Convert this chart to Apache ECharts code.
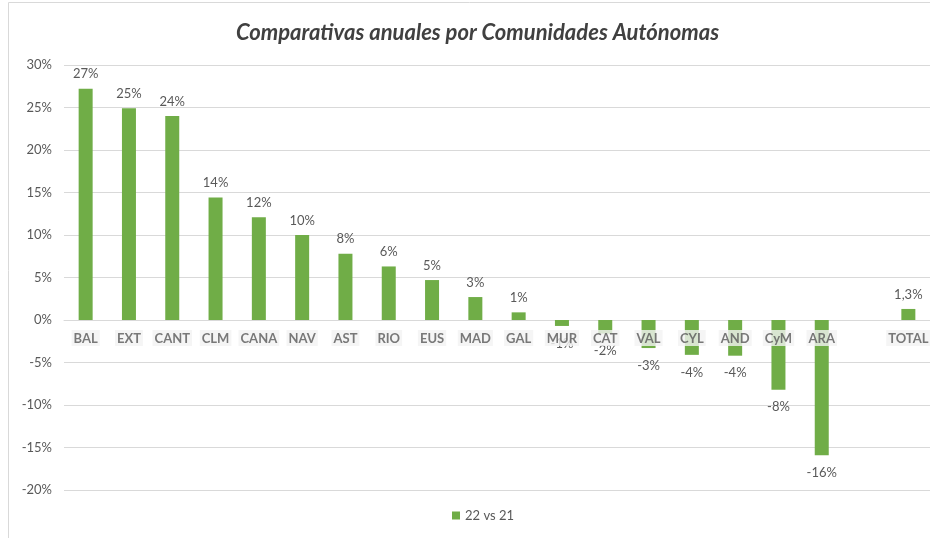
<!DOCTYPE html>
<html>
<head>
<meta charset="utf-8">
<script src="https://cdn.jsdelivr.net/npm/echarts@6/dist/echarts.min.js"></script>
<style>html,body{margin:0;padding:0;background:#fff;overflow:hidden}#c{width:930px;height:538px}</style>
</head>
<body>
<div id="c"></div>
<script>
var categories = ['BAL','EXT','CANT','CLM','CANA','NAV','AST','RIO','EUS','MAD','GAL','MUR','CAT','VAL','CYL','AND','CyM','ARA','','TOTAL'];
var values = [27.2, 24.9, 24.0, 14.4, 12.1, 10.0, 7.8, 6.3, 4.7, 2.7, 0.9, -0.7, -1.6, -3.3, -4.1, -4.2, -8.2, -15.9, null, 1.3];
var labelDecimals = [0,0,0,0,0,0,0,0,0,0,0,0,0,0,0,0,0,0,0,1];
var yTicks = {min: -20, max: 30, interval: 5};
var seriesName = '22 vs 21';
var titleText = 'Comparativas anuales por Comunidades Autónomas';

var chart = echarts.init(document.getElementById('c'));
var font = 'Lato';
chart.setOption({
  animation: false,
  textStyle: {fontFamily: font},
  title: {
    text: titleText, left: 231, top: 17,
    textStyle: {fontFamily: font, fontSize: 22, fontWeight: 'bold', fontStyle: 'italic', color: '#404040'}
  },
  legend: {
    bottom: 11, left: 447, icon: 'rect', itemWidth: 8, itemHeight: 8, itemGap: 4,
    textStyle: {fontFamily: font, fontSize: 13, color: '#595959'},
    data: [seriesName]
  },
  grid: {left: 64, width: 868, top: 65, bottom: 48, containLabel: false},
  xAxis: {
    type: 'category', data: categories,
    axisLine: {onZero: true, lineStyle: {color: '#d9d9d9', width: 1}},
    axisTick: {show: false},
    axisLabel: {show: false}
  },
  yAxis: {
    type: 'value', min: yTicks.min, max: yTicks.max, interval: yTicks.interval,
    axisLine: {show: false}, axisTick: {show: false},
    splitLine: {lineStyle: {color: '#d9d9d9', width: 1}},
    axisLabel: {margin: 12, fontFamily: font, fontSize: 13, color: '#595959', formatter: function(v){return v + '%';}}
  },
  graphic: [{
    type: 'rect', left: 6, top: 0, z: -1,
    shape: {width: 930, height: 536},
    style: {fill: 'none', stroke: '#d9d9d9', lineWidth: 1}
  }],
  series: [{
    name: seriesName, type: 'bar', barWidth: 14, z: 2,
    itemStyle: {color: '#70AD47'},
    data: values.map(function(v){
      var neg = (v !== null && v < 0);
      return {value: v, label: {position: neg ? 'bottom' : 'top', distance: neg ? 11 : 8}};
    }),
    label: {
      show: true, fontFamily: font, fontSize: 13, color: '#595959',
      formatter: function(p){
        if (p.value === null || p.value === undefined) return '';
        var d = labelDecimals[p.dataIndex];
        return p.value.toFixed(d).replace('.', ',') + '%';
      }
    }
  }, {
    name: 'cats', type: 'scatter', symbolSize: 0, z: 20, silent: true,
    data: categories.map(function(c, i){ return c ? [i, 0] : null; }).filter(function(d){return d;}),
    label: {
      show: true, position: 'bottom', distance: 10,
      fontFamily: font, fontSize: 13, fontWeight: 'bold', color: '#595959',
      backgroundColor: '#f2f2f2', padding: [2, 2, 1, 2],
      formatter: function(p){ return categories[p.value[0]]; }
    }
  }]
});
</script>
</body>
</html>
